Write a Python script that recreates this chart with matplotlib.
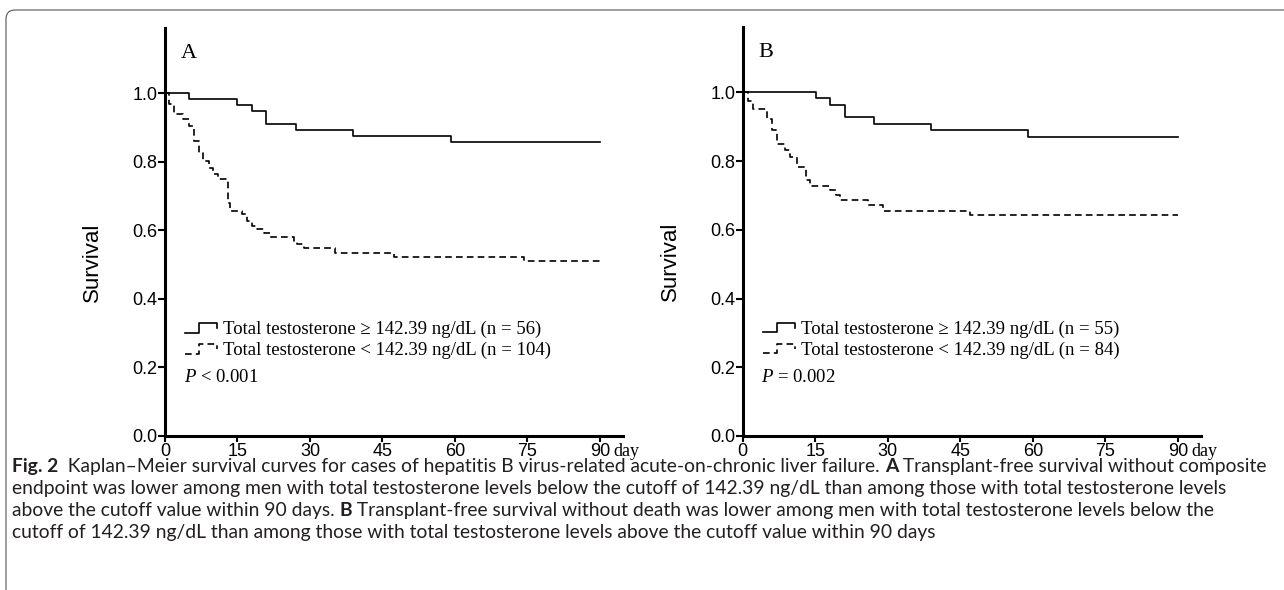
import matplotlib
matplotlib.use('Agg')
import matplotlib.pyplot as plt
from matplotlib.legend_handler import HandlerBase
from matplotlib.lines import Line2D
from matplotlib.patches import FancyBboxPatch
from matplotlib.transforms import IdentityTransform

# Kaplan-Meier steps: (day of drop, survival after drop)
a_hi_t = [0, 5.0, 15.0, 18.1, 21.0, 27.1, 39.0, 59.1]
a_hi_s = [1.0, 0.983, 0.965, 0.948, 0.911, 0.893, 0.875, 0.857]
a_lo_t = [0, 0.9, 1.9, 3.8, 5.0, 5.9, 6.1, 7.0, 7.9, 9.2, 10.0, 11.0, 13.0, 13.4,
          15.9, 16.9, 17.9, 19.0, 20.4, 21.7, 26.6, 27.3, 28.8, 35.2, 47.3, 74.2]
a_lo_s = [1.0, 0.967, 0.939, 0.924, 0.905, 0.891, 0.860, 0.826, 0.802, 0.782, 0.763, 0.751, 0.681, 0.657,
          0.647, 0.627, 0.613, 0.603, 0.592, 0.581, 0.569, 0.560, 0.547, 0.535, 0.523, 0.511]
b_hi_t = [0, 15.1, 18.1, 21.1, 27.2, 39.0, 59.0]
b_hi_s = [1.0, 0.982, 0.964, 0.927, 0.909, 0.889, 0.871]
b_lo_t = [0, 1.0, 2.1, 5.1, 6.0, 7.0, 8.8, 9.8, 11.2, 13.1, 13.9, 18.1, 19.3, 20.1, 26.0, 29.1, 47.1]
b_lo_s = [1.0, 0.976, 0.952, 0.923, 0.889, 0.851, 0.832, 0.812, 0.783, 0.745, 0.728, 0.716, 0.701, 0.687,
          0.671, 0.656, 0.642]
follow_up = 90

panels = ['A', 'B']
labels_a = ['Total testosterone \u2265 142.39 ng/dL (n = 56)', 'Total testosterone < 142.39 ng/dL (n = 104)']
labels_b = ['Total testosterone \u2265 142.39 ng/dL (n = 55)', 'Total testosterone < 142.39 ng/dL (n = 84)']
pvals = ['$P$ < 0.001', '$P$ = 0.002']
xticks = [0, 15, 30, 45, 60, 75, 90]
yticks = [0.0, 0.2, 0.4, 0.6, 0.8, 1.0]

plt.rcParams['font.family'] = ['Liberation Sans Narrow', 'Liberation Sans']
plt.rcParams['mathtext.fontset'] = 'custom'
plt.rcParams['mathtext.it'] = 'Liberation Serif:italic'
plt.rcParams['mathtext.rm'] = 'Liberation Serif'
SERIF = 'Liberation Serif'


class StepGlyph(HandlerBase):
    # little "_|‾|" step drawn as the legend key, like the original
    def create_artists(self, legend, orig_handle, xdescent, ydescent, width, height, fontsize, trans):
        fx = [0.0, 0.42, 0.42, 0.97, 0.97]
        fy = [0.05, 0.05, 0.85, 0.85, 0.4]
        ln = Line2D([v * width - xdescent for v in fx], [v * height - ydescent for v in fy])
        ln.update_from(orig_handle)
        ln.set_transform(trans)
        return [ln]


fig = plt.figure(figsize=(12.84, 5.9), dpi=100)

# thin rounded frame (top and left edge visible)
frame = FancyBboxPatch((6, -8), 1400, 590 - 10 + 8, boxstyle='round,pad=0,rounding_size=9',
                       transform=IdentityTransform(), fill=False, ec='#555555', lw=0.8)
fig.patches.append(frame)

positions = [[165 / 1284, 154 / 590, 457.7 / 1284, 408 / 590],
             [742.7 / 1284, 154 / 590, 458 / 1284, 409 / 590]]
series = [(a_hi_t, a_hi_s, a_lo_t, a_lo_s, labels_a), (b_hi_t, b_hi_s, b_lo_t, b_lo_s, labels_b)]

for k in range(2):
    ax = fig.add_axes(positions[k])
    hi_t, hi_s, lo_t, lo_s, labs = series[k]
    h1, = ax.step(hi_t + [follow_up], hi_s + [hi_s[-1]], where='post', color='black', lw=1.2, clip_on=False)
    h2, = ax.step(lo_t + [follow_up], lo_s + [lo_s[-1]], where='post', color='black', lw=1.2,
                  linestyle=(0, (4, 2.5)), clip_on=False)

    ax.set_xlim(0, 94.7)
    ax.set_ylim(0, 1.19)
    ax.set_xticks(xticks)
    ax.set_yticks(yticks)
    ax.set_yticklabels(['%.1f' % v for v in yticks])
    for s in ['top', 'right']:
        ax.spines[s].set_visible(False)
    for s in ['left', 'bottom']:
        ax.spines[s].set_linewidth(2.2)
    ax.tick_params(direction='out', width=1.5, labelsize=13)
    ax.tick_params(axis='x', length=4.5, pad=0.5)
    ax.tick_params(axis='y', length=5, pad=0.3)
    ax.set_ylabel('Survival', fontsize=16, family='Liberation Sans')
    ax.yaxis.set_label_coords(-0.135, 0.426)

    ax.annotate('day', xy=(90, 0), xytext=(10, -5), textcoords='offset points',
                ha='left', va='top', family=SERIF, fontsize=13)
    ax.text(3.3, 1.115, panels[k], family=SERIF, fontsize=16, va='center')

    ax.legend([h1, h2], labs, handler_map={Line2D: StepGlyph()}, loc='upper left',
              bbox_to_anchor=(0.044, 0.283), frameon=False, borderpad=0, borderaxespad=0,
              handlelength=1.75, handleheight=0.6, handletextpad=0.27, labelspacing=0.2,
              prop={'family': SERIF, 'size': 13.5})
    ax.text(0.041, 0.143, pvals[k], transform=ax.transAxes, family=SERIF, fontsize=13.5, va='center')

# caption, bold run-in words mixed with regular text
caption = [
    [('Fig. 2', True), ('  Kaplan\u2013Meier survival curves for cases of hepatitis B virus-related acute-on-chronic liver failure. ', False),
     ('A', True), (' Transplant-free survival without composite', False)],
    [('endpoint was lower among men with total testosterone levels below the cutoff of 142.39 ng/dL than among those with total testosterone levels', False)],
    [('above the cutoff value within 90 days. ', False), ('B', True),
     (' Transplant-free survival without death was lower among men with total testosterone levels below the', False)],
    [('cutoff of 142.39 ng/dL than among those with total testosterone levels above the cutoff value within 90 days', False)],
]
cap_font = 'Lato'
renderer = fig.canvas.get_renderer()


def run_width(runs, size):
    w = 0
    for txt, bold in runs:
        t = fig.text(0, 0, txt, fontsize=size, family=cap_font, fontweight='bold' if bold else 'normal')
        w += t.get_window_extent(renderer).width
        t.remove()
    return w


cap_size = 10 * (1258 / run_width(caption[0], 10))
baselines = [472, 494, 516, 538]
for runs, yb in zip(caption, baselines):
    x = 12
    for txt, bold in runs:
        t = fig.text(x / 1284, 1 - yb / 590, txt, fontsize=cap_size, family=cap_font,
                     fontweight='bold' if bold else 'normal', va='baseline', color='#231f20')
        x += t.get_window_extent(renderer).width

fig.savefig('out.png', dpi=100, facecolor='white')
